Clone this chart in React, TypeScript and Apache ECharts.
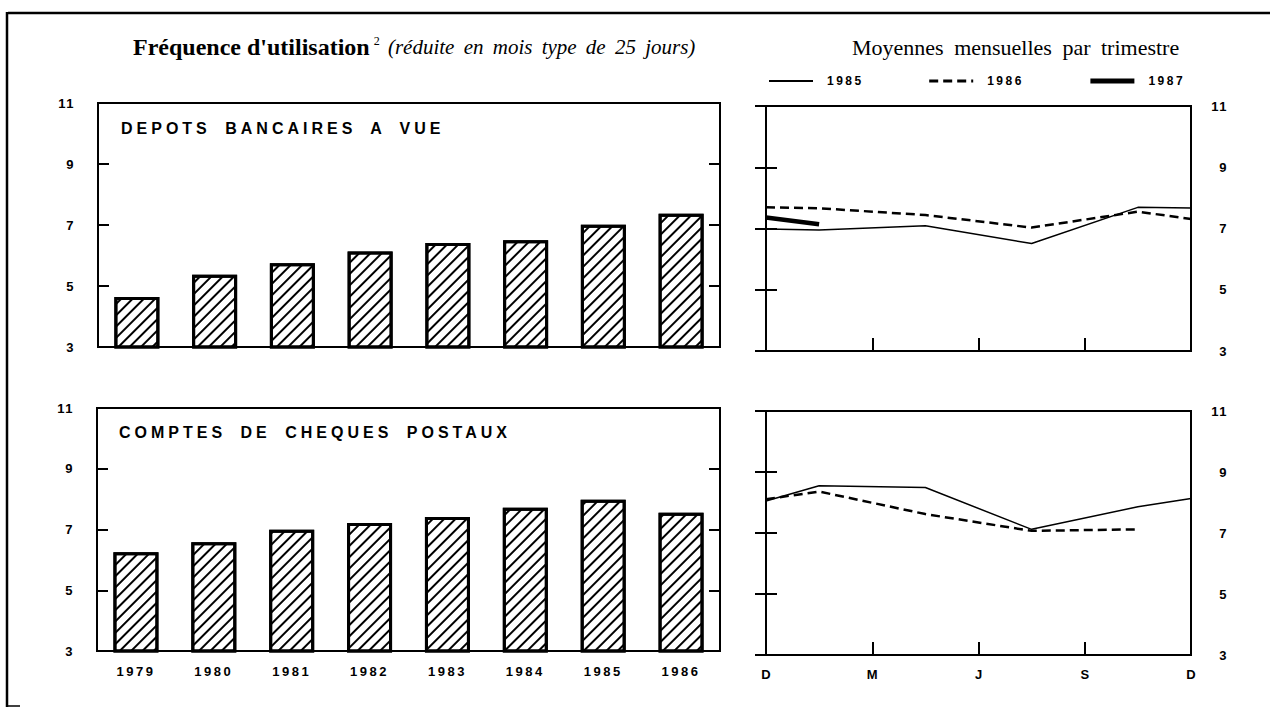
import React, { useEffect, useRef } from "react";
import * as echarts from "echarts";

// ---- data ----
const years = ["1979", "1980", "1981", "1982", "1983", "1984", "1985", "1986"];
const depotsValues = [4.64, 5.37, 5.75, 6.13, 6.41, 6.5, 7.01, 7.37];
const ccpValues = [6.25, 6.58, 6.99, 7.21, 7.41, 7.72, 7.98, 7.55];

const yTicks = [3, 5, 7, 9, 11];
const monthLabels = ["D", "M", "J", "S", "D"];
// months elapsed since December (quarter mid-points + ends)
const quarterMonths = [0, 1.5, 4.5, 7.5, 10.5, 12];

const depots1985 = [6.98, 6.95, 7.09, 6.51, 7.69, 7.67];
const depots1986 = [7.69, 7.66, 7.44, 7.03, 7.55, 7.31];
const depots1987 = [7.36, 7.14];
const ccp1985 = [8.05, 8.55, 8.49, 7.12, 7.86, 8.13];
const ccp1986 = [8.11, 8.36, 7.62, 7.07, 7.12];

const legendYears = ["1985", "1986", "1987"];

const titleBold = "Fréquence d'utilisation";
const titleNote = "2";
const titleItalic = "(réduite en mois type de 25 jours)";
const rightTitle = "Moyennes mensuelles par trimestre";
const panelTop = "DEPOTS BANCAIRES A VUE";
const panelBottom = "COMPTES DE CHEQUES POSTAUX";

const SANS = "'Liberation Sans', Arial, sans-serif";
const SERIF = "'Liberation Serif', 'Times New Roman', serif";

const pairs = (vals: number[]) => vals.map((v, i) => [quarterMonths[i], v]);

function applySpacing(root: HTMLElement | null) {
  if (!root) return;
  root.querySelectorAll("text").forEach((t) => {
    const s = (t.textContent || "").trim();
    let ls = 0;
    let ws = 0;
    if (/^[A-Z ]{6,}$/.test(s)) {
      ls = 4;
      ws = 6;
    } else if (/^\d{4}$/.test(s)) {
      ls = 2.5;
    } else if (/^\d{1,2}$/.test(s)) {
      ls = 1.5;
    } else if (s.startsWith("Moyennes")) {
      ws = 5;
    } else if (s.startsWith("(réduite")) {
      ws = 4;
    }
    if (ls) t.setAttribute("letter-spacing", ls + "px");
    if (ws) t.setAttribute("word-spacing", ws + "px");
  });
}

export default function App() {
  const ref = useRef<HTMLDivElement>(null);

  useEffect(() => {
    const el = ref.current!;
    const chart = echarts.init(el, null, { renderer: "svg" });

    const yMin = yTicks[0];
    const yMax = yTicks[yTicks.length - 1];
    const yInt = yTicks[1] - yTicks[0];

    const tick = (len: number) => ({
      show: true,
      inside: true,
      length: len,
      lineStyle: { color: "#000", width: 2 },
    });
    const labelFont = (size: number) => ({
      color: "#000",
      fontFamily: SANS,
      fontWeight: "bold" as const,
      fontSize: size,
    });

    const yAxis = (gridIndex: number, position: string, showLabel: boolean, margin: number) => ({
      type: "value",
      gridIndex,
      position,
      min: yMin,
      max: yMax,
      interval: yInt,
      axisLine: { show: false },
      splitLine: { show: false },
      axisTick: tick(11),
      axisLabel: { show: showLabel, margin, align: "right", ...labelFont(13) },
    });

    const catAxis = (gridIndex: number, showLabel: boolean) => ({
      type: "category",
      gridIndex,
      data: years,
      axisLine: { show: false },
      axisTick: { show: false },
      splitLine: { show: false },
      axisLabel: { show: showLabel, margin: 14, ...labelFont(13) },
    });

    const monthAxis = (gridIndex: number, showLabel: boolean) => ({
      type: "value",
      gridIndex,
      min: 0,
      max: 12,
      interval: 3,
      axisLine: { show: false },
      splitLine: { show: false },
      axisTick: tick(13),
      axisLabel: {
        show: showLabel,
        margin: 13,
        formatter: (v: number) => monthLabels[Math.round(v / 3)] ?? "",
        ...labelFont(13),
      },
    });

    const gridStyle = { show: true, borderColor: "#000", borderWidth: 2, containLabel: false };

    const barStyle = {
      color: "#fff",
      borderColor: "#000",
      borderWidth: 3,
      decal: {
        symbol: "rect",
        symbolSize: 1,
        dashArrayX: [1, 0],
        dashArrayY: [1.4, 5.6],
        rotation: -Math.PI / 4,
        color: "#000",
      },
    };

    const line1985 = { color: "#000", width: 1.5, type: "solid" };
    const line1986 = { color: "#000", width: 2.5, type: [9, 5] };
    const line1987 = { color: "#000", width: 4.5, type: "solid" };
    const lineSeries = (name: string, vals: number[], xi: number, yi: number, ls: any) => ({
      type: "line",
      name,
      xAxisIndex: xi,
      yAxisIndex: yi,
      data: pairs(vals),
      symbol: "none",
      lineStyle: ls,
      itemStyle: { color: "#000" },
      z: name === "1987" ? 4 : 3,
    });

    const legendLines = [line1985, line1986, line1987];

    chart.setOption({
      animation: false,
      backgroundColor: "#fff",
      grid: [
        { left: 98, top: 103, width: 622, height: 244, ...gridStyle },
        { left: 97, top: 408, width: 623, height: 243, ...gridStyle },
        { left: 766, top: 106, width: 425, height: 245, ...gridStyle },
        { left: 766, top: 411, width: 425, height: 244, ...gridStyle },
      ],
      xAxis: [catAxis(0, false), catAxis(1, true), monthAxis(2, false), monthAxis(3, true)],
      yAxis: [
        yAxis(0, "left", true, 23),
        yAxis(0, "right", false, 8),
        yAxis(1, "left", true, 23),
        yAxis(1, "right", false, 8),
        yAxis(2, "right", true, 37),
        yAxis(2, "left", false, 8),
        yAxis(3, "right", true, 37),
        yAxis(3, "left", false, 8),
      ],
      legend: {
        data: legendYears.map((name, i) => ({
          name,
          itemStyle: { opacity: 0 },
          lineStyle: { ...legendLines[i], width: legendLines[i].width + 0.5 },
        })),
        left: 768,
        top: 75,
        padding: 0,
        itemWidth: 44,
        itemHeight: 14,
        itemGap: 74,
        selectedMode: false,
        itemStyle: { opacity: 0 },
        textStyle: { ...labelFont(12), padding: [0, 0, 0, 9] },
      },
      series: [
        { type: "bar", xAxisIndex: 0, yAxisIndex: 0, data: depotsValues, barWidth: 45, itemStyle: barStyle, clip: true },
        { type: "bar", xAxisIndex: 1, yAxisIndex: 2, data: ccpValues, barWidth: 45, itemStyle: barStyle, clip: true },
        lineSeries("1985", depots1985, 2, 4, line1985),
        lineSeries("1986", depots1986, 2, 4, line1986),
        lineSeries("1987", depots1987, 2, 4, line1987),
        lineSeries("1985", ccp1985, 3, 6, line1985),
        lineSeries("1986", ccp1986, 3, 6, line1986),
      ],
      graphic: [
        { type: "line", shape: { x1: 8, y1: 13, x2: 1270, y2: 13 }, style: { stroke: "#000", lineWidth: 2.5 } },
        { type: "line", shape: { x1: 7, y1: 12, x2: 7, y2: 707 }, style: { stroke: "#000", lineWidth: 2.5 } },
        { type: "line", shape: { x1: 7, y1: 706, x2: 20, y2: 706 }, style: { stroke: "#000", lineWidth: 1.5 } },
        {
          type: "text",
          x: 133,
          y: 47,
          style: {
            text: `{b|${titleBold}}{s|${titleNote}} {i|${titleItalic}}`,
            fill: "#000",
            font: `21px ${SERIF}`,
            verticalAlign: "middle",
            rich: {
              b: { fontFamily: SERIF, fontWeight: "bold", fontSize: 24, fill: "#000" },
              s: { fontFamily: SERIF, fontSize: 12, fill: "#000", verticalAlign: "top", padding: [0, 3, 0, 4] },
              i: { fontFamily: SERIF, fontStyle: "italic", fontSize: 21, fill: "#000" },
            },
          },
        },
        {
          type: "text",
          x: 852,
          y: 47,
          style: { text: rightTitle, fill: "#000", font: `22px ${SERIF}`, verticalAlign: "middle" },
        },
        {
          type: "text",
          x: 121,
          y: 128,
          style: { text: panelTop, fill: "#000", font: `bold 16px ${SANS}`, verticalAlign: "middle" },
        },
        {
          type: "text",
          x: 119,
          y: 432,
          style: { text: panelBottom, fill: "#000", font: `bold 16px ${SANS}`, verticalAlign: "middle" },
        },
      ],
    });

    applySpacing(el);
    chart.on("finished", () => applySpacing(el));
    const t1 = window.setTimeout(() => applySpacing(el), 50);
    const t2 = window.setTimeout(() => applySpacing(el), 400);

    return () => {
      window.clearTimeout(t1);
      window.clearTimeout(t2);
      chart.dispose();
    };
  }, []);

  return (
    <div
      ref={ref}
      style={{ position: "fixed", left: 0, top: 0, width: 1270, height: 708, background: "#fff" }}
    />
  );
}
